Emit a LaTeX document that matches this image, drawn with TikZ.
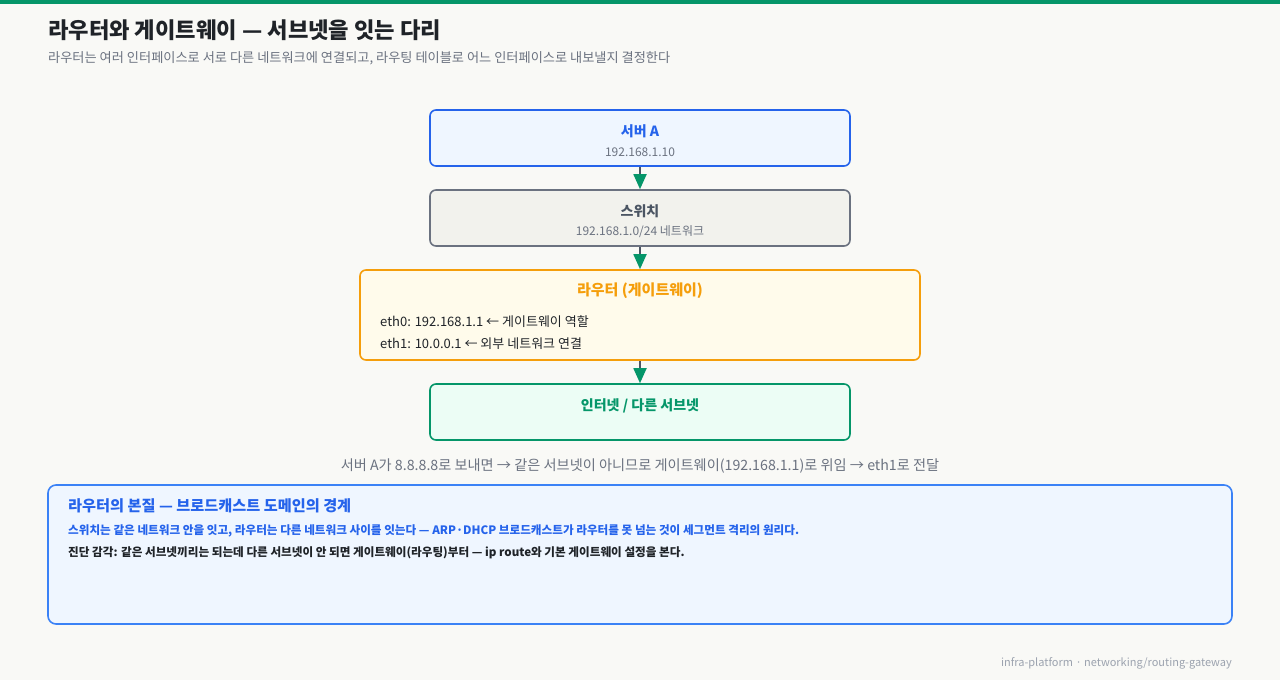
\documentclass[tikz,border=0pt]{standalone}
\usepackage{fontspec}
\usepackage{xcolor}
\setmainfont{Noto Sans CJK KR}
\usetikzlibrary{arrows.meta}
\definecolor{bg}{HTML}{F9F9F6}
\definecolor{topgreen}{HTML}{059669}
\definecolor{inkdark}{HTML}{1F2328}
\definecolor{inkgray}{HTML}{6B7280}
\definecolor{inkfoot}{HTML}{9CA3AF}
\definecolor{srvblue}{HTML}{2563EB}
\definecolor{srvfill}{HTML}{EFF6FF}
\definecolor{swgray}{HTML}{6B7280}
\definecolor{swfill}{HTML}{F2F2ED}
\definecolor{swtext}{HTML}{4B5563}
\definecolor{rtamber}{HTML}{F59E0B}
\definecolor{rtfill}{HTML}{FFFBEB}
\definecolor{netgreen}{HTML}{059669}
\definecolor{netfill}{HTML}{ECFDF5}
\definecolor{noteblue}{HTML}{3B82F6}
\definecolor{stem}{HTML}{4B5563}

\begin{document}
\begin{tikzpicture}[x=1pt,y=-1pt,
  box/.style={rectangle,draw,line width=1.6pt,rounded corners=6pt,minimum width=420pt,minimum height=56pt,inner sep=0pt},
  txt/.style={inner sep=0pt},
  ttl/.style={txt,font=\fontsize{14}{16}\selectfont\bfseries},
  sub/.style={txt,font=\fontsize{12}{14}\selectfont,text=inkgray},
  link/.style={draw=stem,line width=1.8pt,-{Triangle[width=13pt,length=15pt,color=netgreen]}}]
%\draw[help lines] (0,0) grid (1280,680);
\fill[bg] (0,0) rectangle (1280,680);
\fill[topgreen] (0,0) rectangle (1280,4);
\node (title) [txt,anchor=west,font=\fontsize{22.2}{26}\selectfont\bfseries,text=inkdark] at (48,30) {라우터와 게이트웨이 — 서브넷을 잇는 다리};
\node (lead) [txt,anchor=west,font=\fontsize{13.2}{15}\selectfont,text=inkgray] at (48,58) {라우터는 여러 인터페이스로 서로 다른 네트워크에 연결되고, 라우팅 테이블로 어느 인터페이스로 내보낼지 결정한다};
\node (srv) [box,draw=srvblue,fill=srvfill] at (640,138) {};
\node (srvt) [ttl,text=srvblue] at (640,131) {서버 A};
\node (srvs) [sub] at (640,152) {192.168.1.10};
\node (sw) [box,draw=swgray,fill=swfill] at (640,218) {};
\node (swt) [ttl,text=swtext] at (640,211) {스위치};
\node (sws) [sub] at (640,232) {192.168.1.0/24 네트워크};
\node (rt) [box,draw=rtamber,fill=rtfill,minimum width=560pt,minimum height=90pt] at (640,315) {};
\node (rtt) [ttl,text=rtamber,font=\fontsize{15}{17}\selectfont\bfseries] at (640,291) {라우터 (게이트웨이)};
\node (eth0) [txt,anchor=west,font=\fontsize{13}{15}\selectfont,text=inkdark] at (380,322) {eth0: 192.168.1.1 ← 게이트웨이 역할};
\node (eth1) [txt,anchor=west,font=\fontsize{13}{15}\selectfont,text=inkdark] at (380,344) {eth1: 10.0.0.1 ← 외부 네트워크 연결};
\node (net) [box,draw=netgreen,fill=netfill] at (640,412) {};
\node (nett) [ttl,text=netgreen] at (640,406) {인터넷 / 다른 서브넷};
\draw[link] (srv.south) -- (sw.north);
\draw[link] (sw.south) -- (rt.north);
\draw[link] (rt.south) -- (net.north);
\node (flow) [txt,font=\fontsize{14.2}{16}\selectfont,text=inkgray] at (640,466) {서버 A가 8.8.8.8로 보내면 → 같은 서브넷이 아니므로 게이트웨이(192.168.1.1)로 위임 → eth1로 전달};
\node (note) [rectangle,draw=noteblue,fill=srvfill,line width=1.6pt,rounded corners=8pt,minimum width=1184pt,minimum height=139pt] at (640,554.5) {};
\node (notet) [txt,anchor=west,font=\fontsize{15.2}{17}\selectfont\bfseries,text=srvblue] at (68,506) {라우터의 본질 — 브로드캐스트 도메인의 경계};
\node (note1) [txt,anchor=west,font=\fontsize{11.6}{14}\selectfont\bfseries,text=srvblue] at (68,531) {스위치는 같은 네트워크 안을 잇고, 라우터는 다른 네트워크 사이를 잇는다 — ARP·DHCP 브로드캐스트가 라우터를 못 넘는 것이 세그먼트 격리의 원리다.};
\node (note2) [txt,anchor=west,font=\fontsize{11.6}{14}\selectfont\bfseries,text=inkdark] at (68,553) {진단 감각: 같은 서브넷끼리는 되는데 다른 서브넷이 안 되면 게이트웨이(라우팅)부터 — ip route와 기본 게이트웨이 설정을 본다.};
\node (foot) [txt,anchor=east,font=\fontsize{11}{13}\selectfont,text=inkfoot] at (1232,663) {infra-platform · networking/routing-gateway};
\end{tikzpicture}
\end{document}
